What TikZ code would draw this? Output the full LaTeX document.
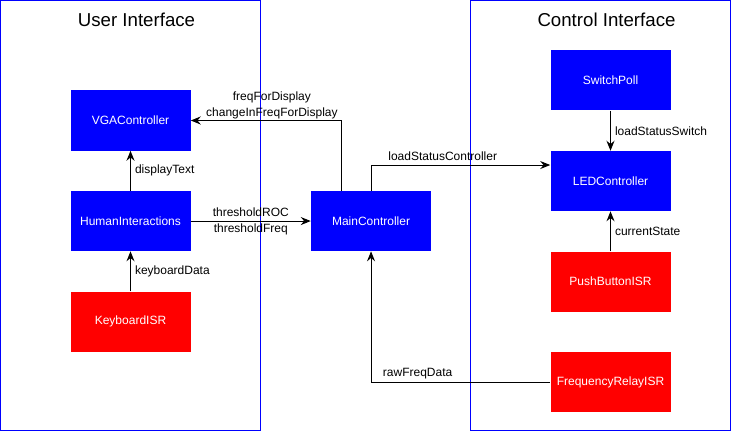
\documentclass[tikz,border=0pt]{standalone}
\usepackage{fontspec}
\setmainfont{Liberation Sans}
\usetikzlibrary{arrows.meta, positioning}

\begin{document}
\begin{tikzpicture}[
        x=0.75pt, y=-0.75pt,
        node distance=30pt and 90pt,
        block/.style={minimum width=90pt, minimum height=45pt, inner sep=0pt, text=white, font=\fontsize{9}{11}\selectfont},
        bluebox/.style={block, fill=blue},
        redbox/.style={block, fill=red},
        frame/.style={draw=blue, line width=0.75pt},
        title/.style={font=\fontsize{14}{16}\selectfont},
        flow/.style={-{Stealth[length=7.5pt, width=6pt, inset=2.5pt]}, line width=0.75pt},
        lbl/.style={font=\fontsize{9}{12}\selectfont, align=center, inner sep=3pt}
    ]
    \useasboundingbox (-0.5,-0.5) rectangle (730.5,430.5);

    % User Interface
    \draw[frame] (0,0) rectangle (260,430);
    \node[title] (UserTitle) at (136,19) {User Interface};
    \node[bluebox] (VGAController) at (130,120) {VGAController};
    \node[bluebox, below=of VGAController] (HumanInteractions) {HumanInteractions};
    \node[redbox, below=of HumanInteractions] (KeyboardISR) {KeyboardISR};

    % Main Controller
    \node[bluebox, right=of HumanInteractions] (MainController) {MainController};

    % Control Interface
    \draw[frame] (470,0) rectangle (730,430);
    \node[title] (ControlTitle) at (606,19) {Control Interface};
    \node[bluebox] (SwitchPoll) at (610,80) {SwitchPoll};
    \node[bluebox, below=of SwitchPoll] (LEDController) {LEDController};
    \node[redbox, below=of LEDController] (PushButtonISR) {PushButtonISR};
    \node[redbox, below=of PushButtonISR] (FrequencyRelayISR) {FrequencyRelayISR};

    \draw[flow] (HumanInteractions) -- (VGAController) node[lbl, midway, right] {displayText};
    \draw[flow] (KeyboardISR) -- (HumanInteractions) node[lbl, midway, right] {keyboardData};
    \draw[flow] (HumanInteractions) -- (MainController) node[lbl, midway, inner sep=0pt] {thresholdROC\\thresholdFreq};
    \draw[flow] ([xshift=-22.5pt]MainController.north) |- (VGAController.east)
        node[lbl, pos=0.73, above, inner sep=1pt] {freqForDisplay\\changeInFreqForDisplay};
    \draw[flow] (MainController.north) |- ([yshift=12pt]LEDController.west)
        node[lbl, pos=0.7, above] {loadStatusController};
    \draw[flow] (SwitchPoll) -- (LEDController) node[lbl, midway, right] {loadStatusSwitch};
    \draw[flow] (PushButtonISR) -- (LEDController) node[lbl, midway, right] {currentState};
    \draw[flow] (FrequencyRelayISR.west) -| (MainController.south)
        node[lbl, pos=0.37, above, inner sep=2pt] {rawFreqData};

\end{tikzpicture}
\end{document}
